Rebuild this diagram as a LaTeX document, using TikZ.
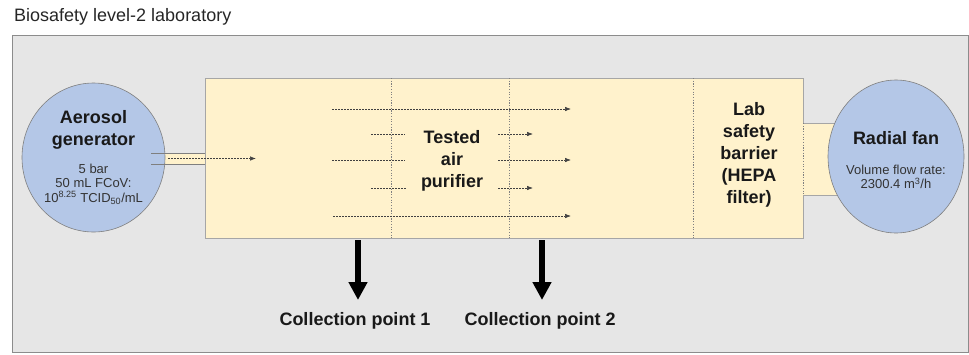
\documentclass[tikz,border=0pt]{standalone}
\usepackage{fontspec}
\setmainfont{Liberation Sans}
\usetikzlibrary{arrows.meta,shapes.geometric}
\definecolor{bggray}{HTML}{E6E6E6}
\definecolor{bordergray}{HTML}{8C8C8C}
\definecolor{boxyellow}{HTML}{FFF2CC}
\definecolor{boxborder}{HTML}{A6A6A6}
\definecolor{circblue}{HTML}{B4C7E7}
\definecolor{circborder}{HTML}{7F7F7F}
\begin{document}
\begin{tikzpicture}[x=1pt,y=-1pt,
  heading/.style={font=\bfseries\fontsize{18}{22}\selectfont, align=center, inner sep=0pt, text=black!90},
  small/.style={font=\fontsize{13}{14.5}\selectfont, align=center, inner sep=0pt, text=black!80},
  flow/.style={draw=black!75, line width=0.6pt, dash pattern=on 1.5pt off 1.5pt},
  flowarrow/.style={flow, -{Latex[length=6pt,width=4.5pt]}},
  divider/.style={draw=black!50, line width=0.5pt, dash pattern=on 1.2pt off 1.5pt},
  collect/.style={line width=6pt, -{Triangle[width=18pt,length=18pt]}},
  blob/.style={ellipse, draw=circborder, fill=circblue, line width=0.6pt, inner sep=0pt},
]
\useasboundingbox (0,0) rectangle (969,354);
\node[anchor=west, font=\fontsize{18}{21}\selectfont, text=black!85, inner sep=0pt] (title) at (14,17) {Biosafety level-2 laboratory};
\node[draw=bordergray, fill=bggray, line width=1.2pt, anchor=north west, minimum width=956pt, minimum height=317pt, inner sep=0pt] (lab) at (12,35) {};

% main box
\node[draw=boxborder, fill=boxyellow, line width=0.8pt, anchor=north west, minimum width=598pt, minimum height=160pt, inner sep=0pt] (box) at (205,78) {};
\draw[divider] (391,78) -- (391,238);
\draw[divider] (509,78) -- (509,238);
\draw[divider] (693,78) -- (693,238);

% inlet tube
\fill[boxyellow] (151,153) rectangle (205,164);
\node[blob, minimum width=143pt, minimum height=149pt] (gen) at (93.5,157.5) {};
\draw[circborder, line width=0.7pt] (151,153) -- (205.4,153);
\draw[circborder, line width=0.7pt] (151,164) -- (205.4,164);
\coordinate (inA) at (168,158.5);
\coordinate (inB) at (256,158.5);
\draw[flowarrow] (inA) -- (inB);

% outlet tube
\fill[boxyellow] (803,123) rectangle (840,195);
\draw[boxborder, line width=0.8pt] (803,123) -- (840,123);
\draw[boxborder, line width=0.8pt] (803,195) -- (840,195);
\draw[divider] (803,123) -- (803,195);
\node[blob, minimum width=136pt, minimum height=153pt] (fan) at (896,156.5) {};

% flow lines
\coordinate (r1a) at (332,109); \coordinate (r1b) at (571,109);
\coordinate (r2a) at (371,134); \coordinate (r2b) at (405,134);
\coordinate (r2c) at (498,134); \coordinate (r2d) at (533,134);
\coordinate (r3a) at (332,160); \coordinate (r3b) at (405,160);
\coordinate (r3c) at (498,160); \coordinate (r3d) at (571,160);
\coordinate (r4a) at (371,188); \coordinate (r4b) at (406,188);
\coordinate (r4c) at (498,188); \coordinate (r4d) at (533,188);
\coordinate (r5a) at (333,216); \coordinate (r5b) at (571,216);
\draw[flowarrow] (r1a) -- (r1b);
\draw[flow] (r2a) -- (r2b);
\draw[flowarrow] (r2c) -- (r2d);
\draw[flow] (r3a) -- (r3b);
\draw[flowarrow] (r3c) -- (r3d);
\draw[flow] (r4a) -- (r4b);
\draw[flowarrow] (r4c) -- (r4d);
\draw[flowarrow] (r5a) -- (r5b);

% texts
\node[heading] (genT) at (93.5,130) {Aerosol\\generator};
\node[small] (genS) at (93.5,184) {5 bar\\50 mL FCoV:\\10\textsuperscript{8.25} TCID\textsubscript{50}/mL};
\node[heading] (purT) at (452,161) {Tested\\air\\purifier};
\node[heading] (hepaT) at (749,155) {Lab\\safety\\barrier\\(HEPA\\filter)};
\node[heading] (fanT) at (896,138) {Radial fan};
\node[small] (fanS) at (896,177) {Volume flow rate:\\2300.4 m\textsuperscript{3}/h};

% collection points
\node[heading] (cp1) at (355,321) {Collection point 1};
\node[heading] (cp2) at (540,321) {Collection point 2};
\coordinate (c1s) at (358,240); \coordinate (c1e) at (358,300);
\coordinate (c2s) at (542,240); \coordinate (c2e) at (542,300);
\draw[collect] (c1s) -- (c1e);
\draw[collect] (c2s) -- (c2e);
\end{tikzpicture}
\end{document}
